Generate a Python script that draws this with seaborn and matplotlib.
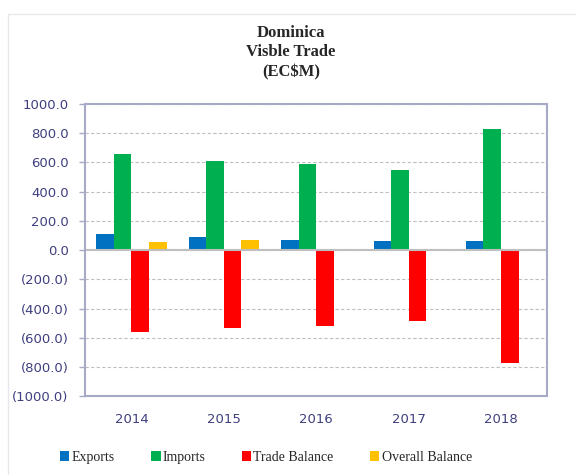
import matplotlib
matplotlib.use("Agg")
import matplotlib.pyplot as plt
import seaborn as sns
import pandas as pd
from matplotlib.ticker import FuncFormatter, MultipleLocator
from matplotlib.patches import Rectangle

years = ["2014", "2015", "2016", "2017", "2018"]
exports = [107.0, 91.0, 68.0, 59.0, 59.0]
imports = [657.0, 610.0, 587.0, 546.0, 826.0]
trade_balance = [-559.0, -530.0, -521.0, -486.0, -776.0]
overall_balance = [53.0, 68.0, 0.0, 0.0, 0.0]
series = ["Exports", "Imports", "Trade Balance", "Overall Balance"]
colors = ["#0070C0", "#00B050", "#FF0000", "#FFC000"]

rows = []
for name, vals in zip(series, [exports, imports, trade_balance, overall_balance]):
    for y, v in zip(years, vals):
        rows.append({"Year": y, "Series": name, "Value": v})
df = pd.DataFrame(rows)

sns.set_theme(style="white")
plt.rcParams['font.family'] = ['DejaVu Sans']

fig = plt.figure(figsize=(5.76, 4.75), dpi=100)
ax = fig.add_axes([0.148, 0.166, 0.802, 0.615])

sns.barplot(data=df, x="Year", y="Value", hue="Series", order=years,
            hue_order=series, palette=colors, width=0.76, gap=0,
            saturation=1, ax=ax, edgecolor="none", linewidth=0)

ax.set_ylim(-1000, 1000)
ax.yaxis.set_major_locator(MultipleLocator(200))

def fmt(v, pos):
    if abs(v) < 1e-9:
        return "0.0"
    if v < 0:
        return "({:.1f})".format(-v)
    return "{:.1f}".format(v)

ax.yaxis.set_major_formatter(FuncFormatter(fmt))
ax.set_xlabel("")
ax.set_ylabel("")
tick_color = "#3F3F7F"
ax.tick_params(axis="y", colors=tick_color, labelsize=9.5, length=4, width=1, pad=8, left=True)
ax.tick_params(axis="y", color="#A6AAC8")
ax.tick_params(axis="x", colors=tick_color, labelsize=9.5, length=0, pad=12)
for lab in ax.get_yticklabels() + ax.get_xticklabels():
    lab.set_color(tick_color)

ax.grid(axis="y", linestyle=(0, (3, 2)), color="#BFBFBF", linewidth=0.8)
ax.set_axisbelow(True)
ax.axhline(0, color="#BFBFBF", linewidth=1.5, zorder=1.5)
for s in ax.spines.values():
    s.set_visible(True)
    s.set_color("#A6AAC8")
    s.set_linewidth(1.5)

fig.text(0.505, 0.890, "Dominica\nVisble Trade\n(EC$M)", ha="center", va="center",
         fontsize=12, fontweight="bold", family=["Liberation Serif"], linespacing=1.3)

handles, labels = ax.get_legend_handles_labels()
if ax.legend_:
    ax.legend_.remove()
leg = fig.legend(handles, labels, loc="center", bbox_to_anchor=(0.462, 0.037), ncol=4,
                 frameon=False, prop={"family": "Liberation Serif", "size": 10},
                 handlelength=0.65, handleheight=0.65, handletextpad=0.15, columnspacing=2.65)

fig.patches.append(Rectangle((0.014, -0.01), 1.0, 0.98, transform=fig.transFigure,
                             fill=False, edgecolor="#E6E8EE", linewidth=1))

fig.savefig("out.png", dpi=100)
